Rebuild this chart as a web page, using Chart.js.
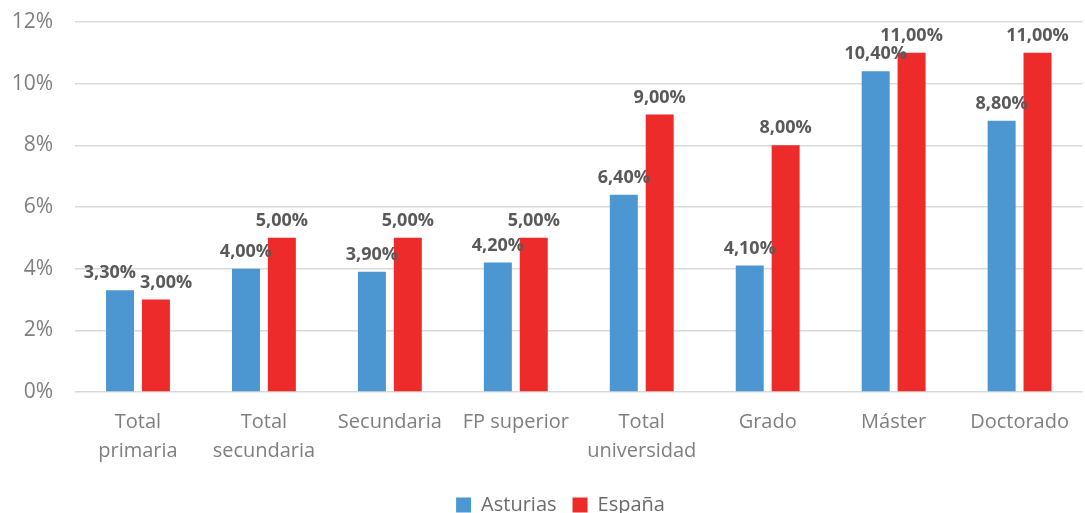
<!DOCTYPE html>
<html>
<head>
<meta charset="utf-8">
<script src="https://cdn.jsdelivr.net/npm/chart.js@4"></script>
<style>
html,body{margin:0;padding:0;background:#fff;}
#wrap{width:1085px;height:513px;position:relative;}
</style>
</head>
<body>
<div id="wrap"><canvas id="c" width="1085" height="513"></canvas></div>
<script>
const categories = [["Total","primaria"],["Total","secundaria"],"Secundaria","FP superior",["Total","universidad"],"Grado","Máster","Doctorado"];
const seriesNames = ["Asturias","España"];
const asturias = [3.3, 4.0, 3.9, 4.2, 6.4, 4.1, 10.4, 8.8];
const espana = [3.0, 5.0, 5.0, 5.0, 9.0, 8.0, 11.0, 11.0];
const yTicks = [0, 2, 4, 6, 8, 10, 12];

const FONT = "'Open Sans', 'DejaVu Sans', sans-serif";

const dataLabels = {
  id: 'dataLabels',
  afterLayout(chart) {
    if (chart.legend) { chart.legend.left += 18; chart.legend.right += 18; }
  },
  afterDatasetsDraw(chart) {
    const ctx = chart.ctx;
    ctx.save();
    ctx.font = "bold 18px " + FONT;
    ctx.fillStyle = '#595959';
    ctx.textAlign = 'center';
    ctx.textBaseline = 'bottom';
    const fmt = v => v.toFixed(2).replace('.', ',') + '%';
    const m0 = chart.getDatasetMeta(0), m1 = chart.getDatasetMeta(1);
    const H = 18, gap = 4, off = 8;
    m0.data.forEach((e0, j) => {
      const e1 = m1.data[j];
      const t0 = fmt(chart.data.datasets[0].data[j]);
      const t1 = fmt(chart.data.datasets[1].data[j]);
      const w0 = ctx.measureText(t0).width, w1 = ctx.measureText(t1).width;
      let x0 = e0.x, x1 = e1.x;
      const y0 = e0.y - off, y1 = e1.y - off;
      if (Math.abs(y0 - y1) < H) {
        const overlap = (x0 + w0 / 2 + gap) - (x1 - w1 / 2);
        if (overlap > 0) { x0 -= overlap / 2; x1 += overlap / 2; }
      }
      ctx.fillText(t0, x0, y0);
      ctx.fillText(t1, x1, y1);
    });
    ctx.restore();
  }
};

new Chart(document.getElementById('c'), {
  type: 'bar',
  data: {
    labels: categories,
    datasets: [
      { label: seriesNames[0], data: asturias, backgroundColor: '#4C97D2', barPercentage: 0.78, categoryPercentage: 0.57 },
      { label: seriesNames[1], data: espana, backgroundColor: '#EE2B2B', barPercentage: 0.78, categoryPercentage: 0.57 }
    ]
  },
  options: {
    responsive: false,
    animation: false,
    devicePixelRatio: 1,
    layout: { padding: { top: 22, right: 0, left: 0, bottom: -12 } },
    plugins: {
      tooltip: { enabled: false },
      legend: {
        position: 'bottom',
        labels: {
          font: { family: FONT, size: 20 },
          color: '#6b6b6b',
          boxWidth: 15,
          boxHeight: 15,
          padding: 16
        }
      }
    },
    scales: {
      x: {
        afterFit(scale) { scale.height -= 3; },
        grid: { display: false, drawTicks: false },
        border: { display: false },
        ticks: {
          font: { family: FONT, size: 20, lineHeight: 1.45 },
          color: '#7f7f7f',
          maxRotation: 0,
          autoSkip: false,
          padding: 16
        }
      },
      y: {
        min: 0,
        max: 12,
        afterBuildTicks(axis) { axis.ticks = yTicks.map(v => ({ value: v })); },
        afterFit(scale) { scale.width = 75; scale.paddingTop = 0; },
        grid: { color: '#d9d9d9', lineWidth: 1.5, drawTicks: false },
        border: { display: false },
        ticks: {
          font: { family: FONT, size: 21 },
          color: '#7f7f7f',
          padding: 22,
          callback: v => v + '%'
        }
      }
    }
  },
  plugins: [dataLabels]
});
</script>
</body>
</html>
